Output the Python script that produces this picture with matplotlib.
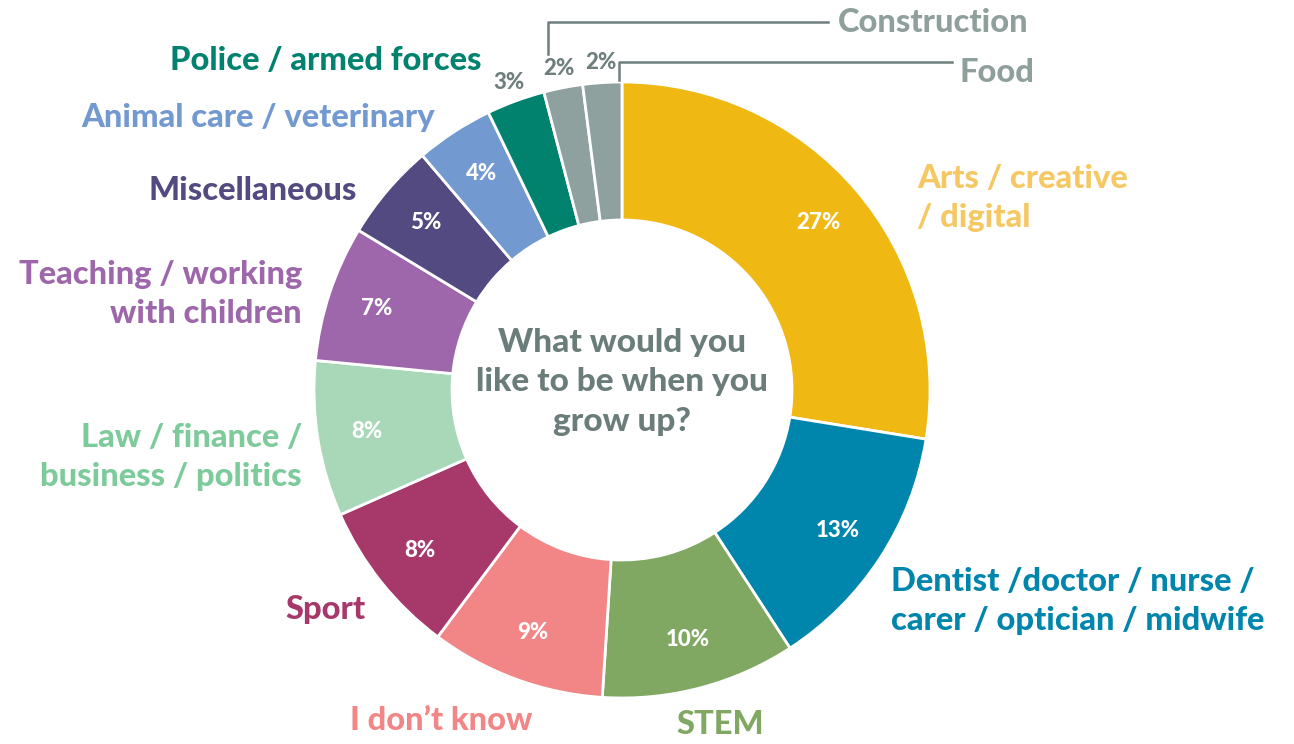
import matplotlib.pyplot as plt
import numpy as np

plt.rcParams['font.family'] = ['Lato', 'DejaVu Sans']

# datos
cats = ['Arts / creative\n/ digital', 'Dentist /doctor / nurse /\ncarer / optician / midwife',
        'STEM', 'I don\u2019t know', 'Sport', 'Law / finance /\nbusiness / politics',
        'Teaching / working\nwith children', 'Miscellaneous', 'Animal care / veterinary',
        'Police / armed forces', 'Construction', 'Food']
vals = [27, 13, 10, 9, 8, 8, 7, 5, 4, 3, 2, 2]
wedge_cols = ['#F0B813', '#0085AD', '#80A862', '#F28585', '#A6386A', '#A8D8B8',
              '#9E66AB', '#524A80', '#7399D1', '#00826E', '#8FA19F', '#8FA19F']
label_cols = ['#F6C863', '#0085AD', '#80A862', '#F28585', '#A6386A', '#7DCB9B',
              '#9E66AB', '#524A80', '#7399D1', '#00826E', '#8E9F9C', '#8E9F9C']
center_txt = 'What would you\nlike to be when you\ngrow up?'

W, H = 1294, 744
fig = plt.figure(figsize=(W / 100, H / 100), dpi=100)
ax = fig.add_axes([0, 0, 1, 1])

cx, cy = 622, H - 390
R, r_in = 308, 170

wedges, _ = ax.pie(vals, colors=wedge_cols, startangle=90, counterclock=False,
                   center=(cx, cy), radius=R, frame=True,
                   wedgeprops=dict(width=R - r_in, edgecolor='white', linewidth=2))
ax.set_xlim(0, W)
ax.set_ylim(0, H)
ax.set_aspect('equal')
ax.axis('off')

# porcentajes
for i, w in enumerate(wedges):
    ang = np.deg2rad((w.theta1 + w.theta2) / 2)
    if vals[i] >= 4:
        rr, col = 258, 'white'
    else:
        rr, col = 328, '#6E7F7D'
    ax.text(cx + rr * np.cos(ang), cy + rr * np.sin(ang), f'{vals[i]}%',
            ha='center', va='center', color=col, fontsize=16, fontweight=900)

# etiquetas de categorias (posicion, alineacion)
pos = [(917, 198, 'left'), (891, 601, 'left'), (720, 725, 'center'),
       (441, 720, 'center'), (366, 609, 'right'), (302, 457, 'right'),
       (302, 294, 'right'), (357, 190, 'right'), (435, 117, 'right'),
       (482, 60, 'right'), (838, 23, 'left'), (960, 72, 'left')]
for i, (x, y, ha) in enumerate(pos):
    ax.text(x, H - y, cats[i], ha=ha, va='center', color=label_cols[i],
            fontsize=23.5, fontweight=900, linespacing=1.45)

# lineas guia
ax.plot([548, 548, 828], [H - 54, H - 22, H - 22], color='#6E7F7D', lw=1.8)
ax.plot([619, 619, 952], [H - 80, H - 62, H - 62], color='#6E7F7D', lw=1.8)

ax.text(cx, H - 382, center_txt, ha='center', va='center', color='#6B7D7B',
        fontsize=24, fontweight=900, linespacing=1.45)

fig.savefig('out.png', dpi=100)
